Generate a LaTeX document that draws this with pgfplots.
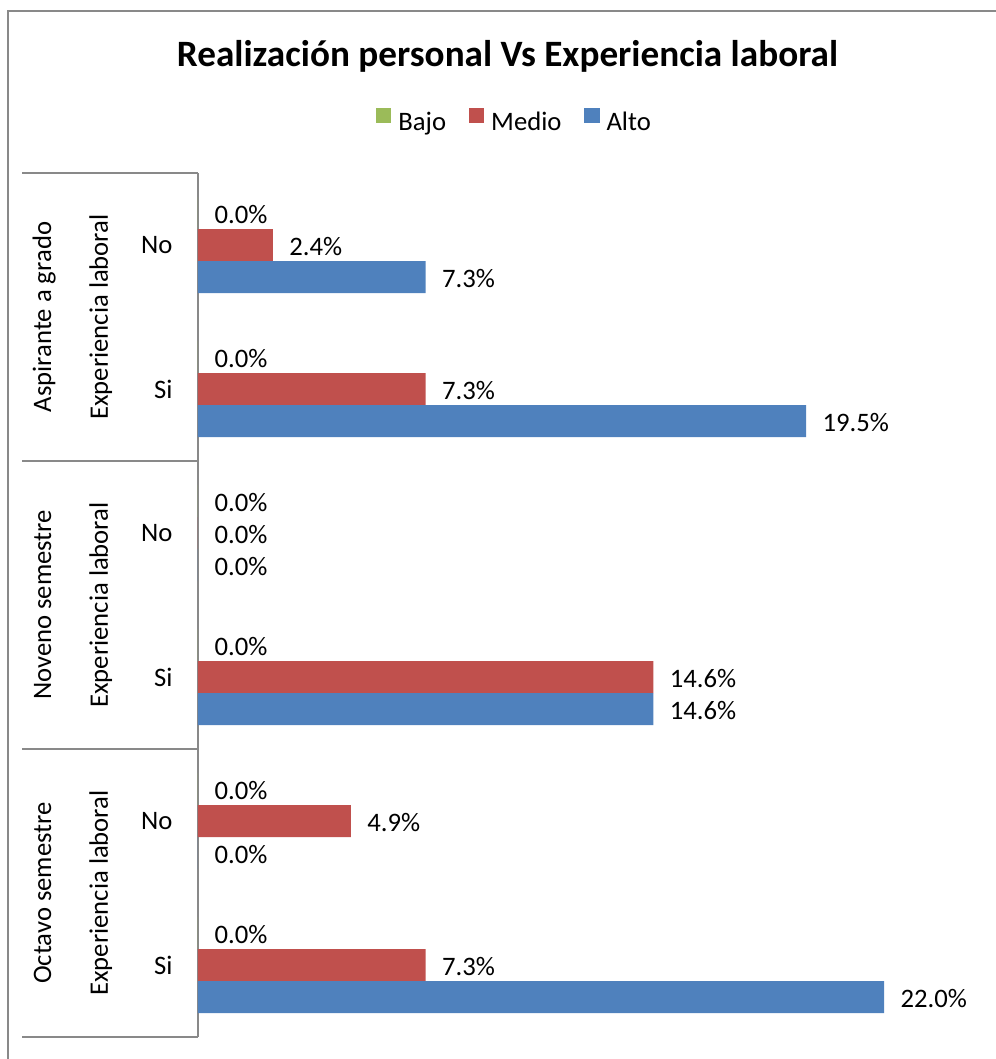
\documentclass[border=0pt]{standalone}
\usepackage{pgfplots}
\pgfplotsset{compat=1.18}
\usepackage{fontspec}
\setmainfont{Carlito}
\definecolor{cBajo}{HTML}{9BBB59}
\definecolor{cMedio}{HTML}{C0504D}
\definecolor{cAlto}{HTML}{4F81BD}
\definecolor{cLine}{HTML}{898989}
\begin{document}
\begin{tikzpicture}
\useasboundingbox (0,0) rectangle (373.5pt,397.125pt);
% outer chart frame (top and left edges visible)
\draw[cLine, line width=0.8pt] (3pt,-2pt) -- (3pt,393pt) -- (376pt,393pt);
% title
\node[anchor=base, inner sep=0pt, font=\bfseries\fontsize{13.95}{16}\selectfont] at (190.3pt,372pt) {Realización personal Vs Experiencia laboral};
\begin{axis}[
  at={(74.25pt,8.25pt)}, anchor=south west,
  scale only axis, width=257.25pt, height=324pt,
  xmin=0, xmax=22, ymin=-0.5, ymax=5.5,
  y dir=reverse,
  enlargelimits=false, clip=false,
  axis x line=none, axis y line=left,
  y axis line style={-, draw=cLine, line width=0.75pt},
  xtick=\empty,
  ytick={0,1,2,3,4,5},
  yticklabels={No,Si,No,Si,No,Si},
  major tick length=0pt,
  yticklabel style={font=\fontsize{10}{12}\selectfont, inner sep=0pt, anchor=east, xshift=-9.4pt},
  /pgf/number format/assume math mode=true,
  point meta=x,
  nodes near coords={\pgfmathprintnumber[fixed,fixed zerofill,precision=1]{\pgfplotspointmeta}\%},
  every node near coord/.append style={font=\fontsize{10}{12}\selectfont, anchor=west, inner sep=0pt, xshift=6pt, yshift=-0.6pt, text=black},
  legend style={draw=none, fill=none, at={(0.4600,1.0602)}, anchor=center,
    font=\fontsize{10}{12}\selectfont, inner sep=0pt,
    nodes={inner sep=0pt},
    /tikz/every odd column/.append style={column sep=2.6pt},
    /tikz/every even column/.append style={column sep=8.6pt}},
  legend columns=-1,
  sqleg/.style={legend image code/.code={\fill[##1] (0pt,0.1pt) rectangle (5.7pt,5.8pt);}},
]
\addplot[xbar, bar width=0.2222, bar shift=0pt, fill=cBajo, draw=none, sqleg]
  coordinates {(0,-0.2222) (0,0.7778) (0,1.7778) (0,2.7778) (0,3.7778) (0,4.7778)};
\addlegendentry{Bajo}
\addplot[xbar, bar width=0.2222, bar shift=0pt, fill=cMedio, draw=none, sqleg]
  coordinates {(2.4,0) (7.3,1) (0,2) (14.6,3) (4.9,4) (7.3,5)};
\addlegendentry{Medio}
\addplot[xbar, bar width=0.2222, bar shift=0pt, fill=cAlto, draw=none, sqleg]
  coordinates {(7.3,0.2222) (19.5,1.2222) (0,2.2222) (14.6,3.2222) (0,4.2222) (22.0,5.2222)};
\addlegendentry{Alto}
% category separators
\draw[cLine, line width=0.6pt] (axis cs:0,-0.5) -- ++(-66pt,0pt);
\draw[cLine, line width=0.6pt] (axis cs:0,1.5) -- ++(-66pt,0pt);
\draw[cLine, line width=0.6pt] (axis cs:0,3.5) -- ++(-66pt,0pt);
\draw[cLine, line width=0.6pt] (axis cs:0,5.5) -- ++(-66pt,0pt);
% multi-level category labels
\node[rotate=90, anchor=base, inner sep=0pt, font=\fontsize{10}{12}\selectfont] at ([xshift=-55.1pt]axis cs:0,0.5) {Aspirante a grado};
\node[rotate=90, anchor=base, inner sep=0pt, font=\fontsize{10}{12}\selectfont] at ([xshift=-55.1pt]axis cs:0,2.5) {Noveno semestre};
\node[rotate=90, anchor=base, inner sep=0pt, font=\fontsize{10}{12}\selectfont] at ([xshift=-55.1pt]axis cs:0,4.5) {Octavo semestre};
\node[rotate=90, anchor=base, inner sep=0pt, font=\fontsize{10}{12}\selectfont] at ([xshift=-33.75pt]axis cs:0,0.5) {Experiencia laboral};
\node[rotate=90, anchor=base, inner sep=0pt, font=\fontsize{10}{12}\selectfont] at ([xshift=-33.75pt]axis cs:0,2.5) {Experiencia laboral};
\node[rotate=90, anchor=base, inner sep=0pt, font=\fontsize{10}{12}\selectfont] at ([xshift=-33.75pt]axis cs:0,4.5) {Experiencia laboral};
\end{axis}
\end{tikzpicture}
\end{document}
